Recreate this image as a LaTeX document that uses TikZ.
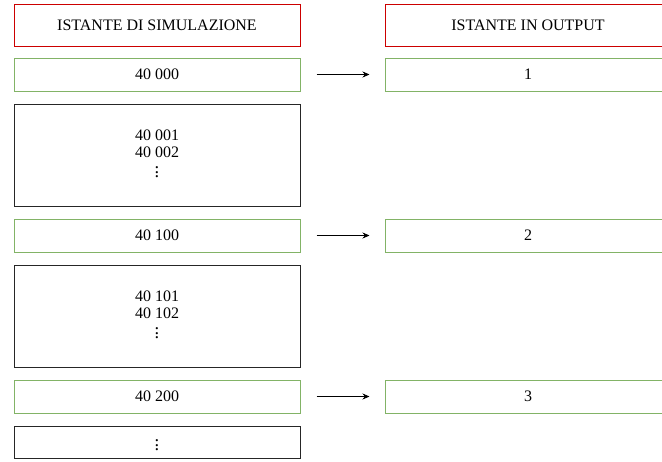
\documentclass[tikz,border=0pt]{standalone}
\usepackage{fontspec}
\setmainfont{Liberation Serif}
\usetikzlibrary{arrows.meta}
\definecolor{hdrred}{RGB}{204,0,0}
\definecolor{grn}{RGB}{130,179,102}
\newcommand{\mydots}{\scalebox{1.15}{$\vdots$}}
\begin{document}
\begin{tikzpicture}[x=1pt,y=-1pt,
  every node/.style={font=\fontsize{16}{17}\selectfont, align=center, inner sep=0pt},
  box/.style={draw, line width=1pt, minimum width=286pt},
  hdr/.style={box, draw=hdrred, minimum height=42pt},
  step box/.style={box, draw=grn, minimum height=33pt},
  gap box/.style={box, draw=black!85, minimum height=102pt},
  tail box/.style={box, draw=black!85, minimum height=32pt},
  arr/.style={-{Stealth[length=7pt,width=6pt]}, line width=0.8pt, shorten <=16pt, shorten >=15pt}]
\useasboundingbox (0,0) rectangle (662,461);
\node[hdr] (h1) at (157,25) {ISTANTE DI SIMULAZIONE};
\node[hdr] (h2) at (528,25) {ISTANTE IN OUTPUT};
\node[step box] (g1) at (157,74.5) {40 000};
\node[gap box] (b1) at (157,155) {};
\node (t1) at (157,154) {40 001\\40 002\\[1pt]\mydots};
\node[step box] (g2) at (157,235.5) {40 100};
\node[gap box] (b2) at (157,316) {};
\node (t2) at (157,315) {40 101\\40 102\\[1pt]\mydots};
\node[step box] (g3) at (157,396.5) {40 200};
\node[tail box] (b3) at (157,442) {\mydots};
\node[step box] (o1) at (528,74.5) {1};
\node[step box] (o2) at (528,235.5) {2};
\node[step box] (o3) at (528,396.5) {3};
\draw[arr] (g1.east) -- (o1.west);
\draw[arr] (g2.east) -- (o2.west);
\draw[arr] (g3.east) -- (o3.west);
\end{tikzpicture}
\end{document}
